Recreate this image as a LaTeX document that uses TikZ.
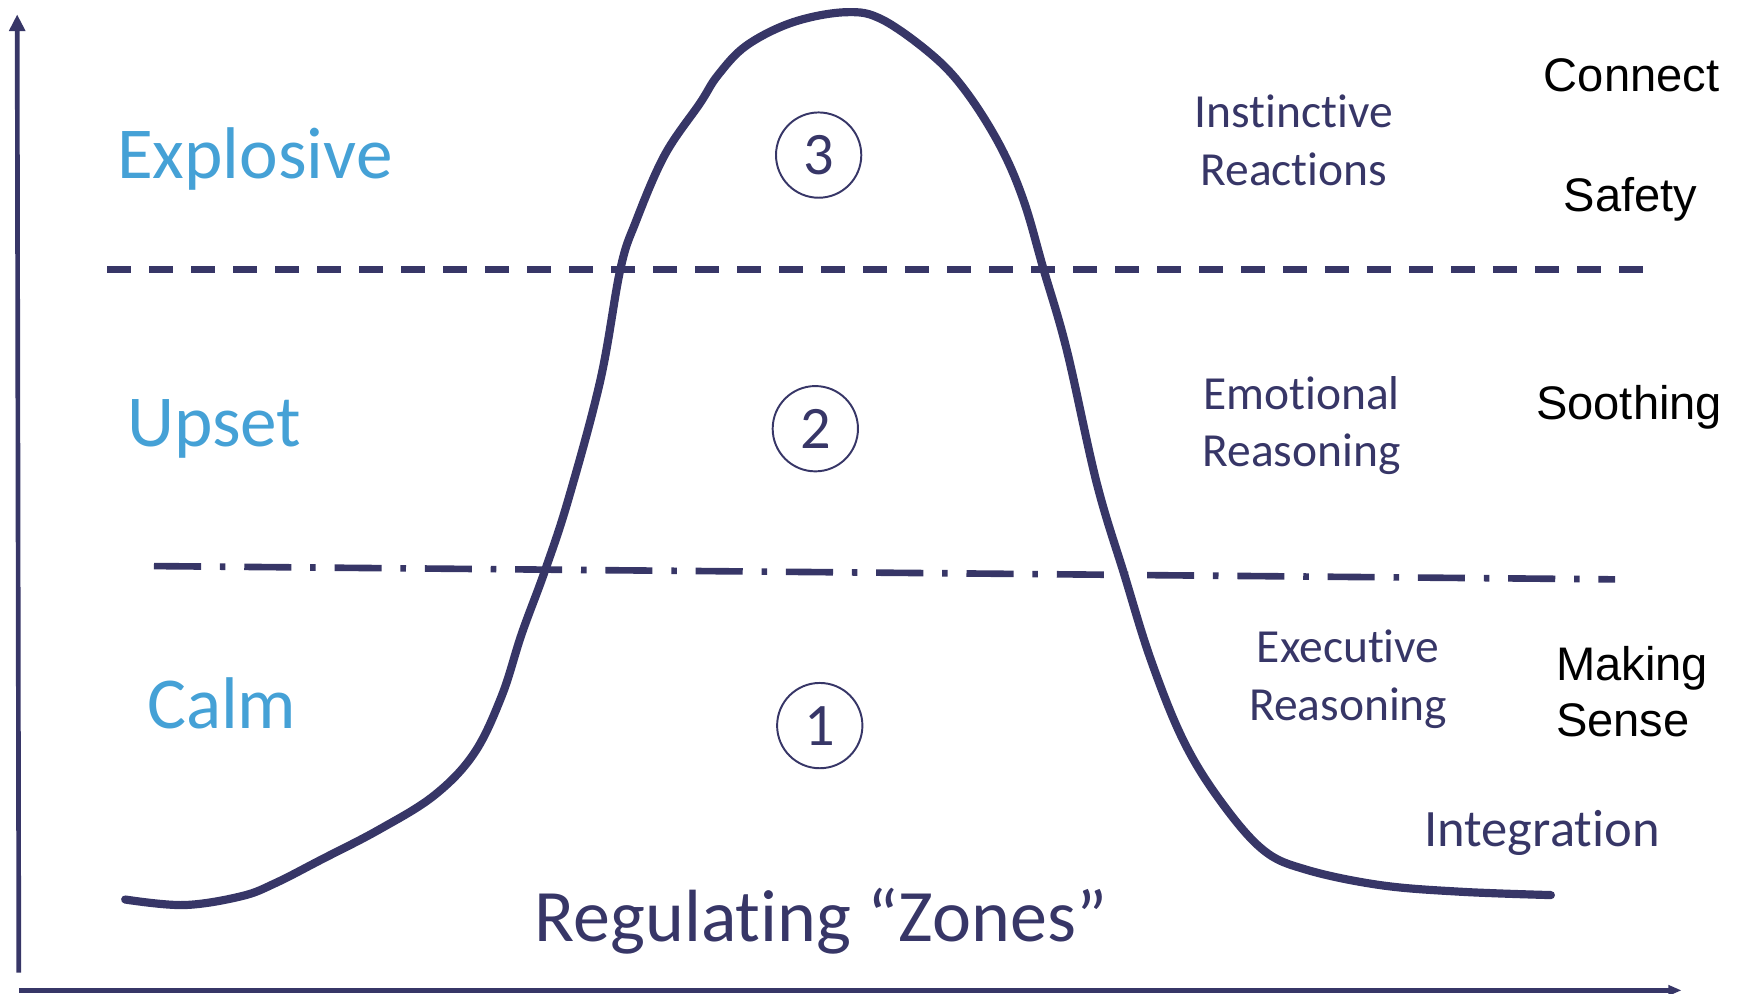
\documentclass[tikz,border=0pt]{standalone}
\usepackage{fontspec}
\setmainfont{Carlito}[Ligatures={TeX,NoCommon}]
\newfontfamily\arialfont{Liberation Sans}
\usepackage{tikz}
\usetikzlibrary{arrows.meta,positioning}
\definecolor{navy}{RGB}{55,54,103}
\definecolor{skyblue}{RGB}{69,161,214}
\tikzset{
  zone/.style={anchor=base west,inner sep=0pt,text=skyblue,font=\fontsize{18.8}{22}\selectfont},
  mind/.style={anchor=base,inner sep=0pt,text=navy,align=center,font=\fontsize{12.2}{14.7}\selectfont},
  need/.style={anchor=base west,inner sep=0pt,text=black,align=left,font=\arialfont\fontsize{12.1}{14.5}\selectfont},
  num/.style={circle,draw=navy,line width=0.5pt,minimum size=7.7mm,inner sep=0pt,text=navy,font=\fontsize{15.5}{16}\selectfont},
  axis/.style={navy,line width=1.2pt},
  limit/.style={navy,line width=1.7pt}
}

\begin{document}
\begin{tikzpicture}[x=0.1mm,y=-0.1mm]
    \useasboundingbox (0,0) rectangle (1568,897);

    % axes
    \draw[axis,-{Triangle[width=1.4mm,length=1.5mm]}] (17,878) -- (15.5,13);
    \draw[axis,-{Triangle[width=0.9mm,length=1.2mm]}] (17,894) -- (1518,894);

    % zone limits
    \draw[limit,dash pattern=on 2.14mm off 1.65mm] (97,243) -- (1483,243);
    \draw[limit,dash pattern=on 4.25mm off 1.7mm on 0.5mm off 1.7mm] (139,511) -- (1458,523);

    % arousal curve
    \draw[navy,line width=2.1pt,line cap=round] plot[smooth,tension=0.6] coordinates {
      (113,812) (166,817) (218,809) (249,797) (290,776) (342,749) (392,718) (428,680)
      (453,628) (471,572) (492,515) (513,451) (542,343) (560,243) (574,200) (600,140)
      (632,93) (648,68) (674,41) (716,20) (764,11) (797,18) (843,51) (873,84)
      (903,132) (924,181) (942,243) (963,316) (990,436) (1015,519) (1039,596) (1068,668)
      (1101,722) (1140,767) (1179,785) (1246,799) (1319,805) (1400,808)};

    % zone names
    \node[zone] (explosive) at (105,161) {Explosive};
    \node[zone] (upset) at (114,403) {Upset};
    \node[zone] (calm) at (132,658) {Calm};

    % zone numbers
    \node[num] (three) at (739,140) {3};
    \node[num] (two) at (736,387) {2};
    \node[num] (one) at (740,655) {1};

    % reasoning levels (base = last line)
    \node[mind] (instinct) at (1168,167) {Instinctive\\Reactions};
    \node[mind] (emotion) at (1175,421) {Emotional\\Reasoning};
    \node[mind] (execute) at (1217,650) {Executive\\Reasoning};
    \node[mind,font=\fontsize{13.5}{16}\selectfont] (integrate) at (1392,764) {Integration};

    % responses
    \node[need] (connect) at (1393,83) {Connect};
    \node[need] (safety) at (1411,191) {Safety};
    \node[need] (soothe) at (1386,379) {Soothing};
    \node[need] (sense) at (1404,665) {Making\\Sense};

    \node[anchor=base west,inner sep=0pt,text=navy,font=\fontsize{19}{22}\selectfont] (title) at (482,850) {Regulating “Zones”};
\end{tikzpicture}
\end{document}
